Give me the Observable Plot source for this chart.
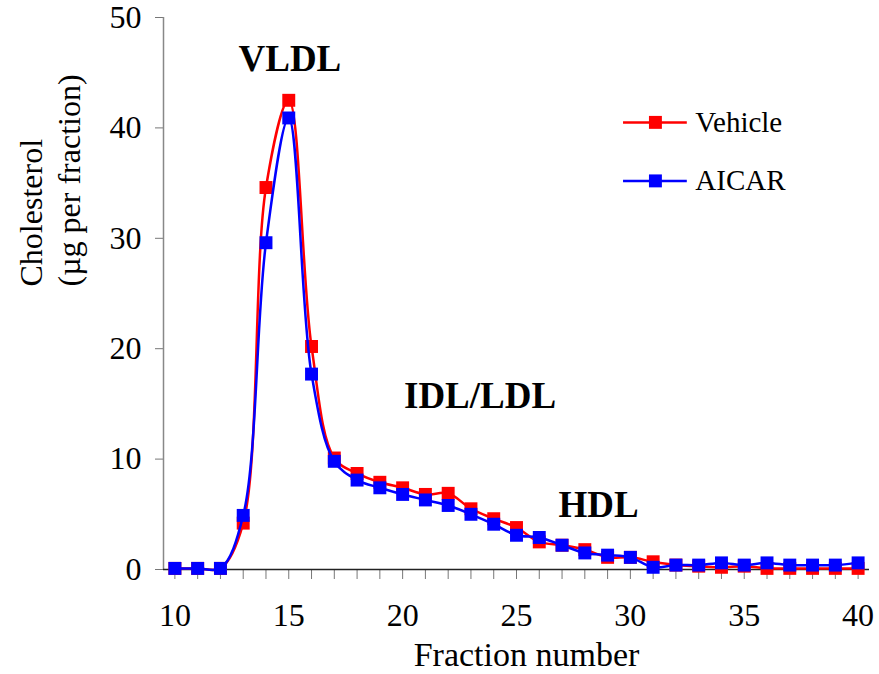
<!DOCTYPE html>
<html><head><meta charset="utf-8">
<script src="https://cdn.jsdelivr.net/npm/d3@7"></script>
<script src="https://cdn.jsdelivr.net/npm/@observablehq/plot@0.6"></script>
<style>
body{margin:0;background:#fff}
#chart svg, #chart svg text { font-family: "Liberation Serif", "Times New Roman", serif !important; }
</style>
</head><body><div id="chart"></div>
<script>
const fractions = [10,11,12,13,14,15,16,17,18,19,20,21,22,23,24,25,26,27,28,29,30,31,32,33,34,35,36,37,38,39,40];
const vehicle = [0.1,0.1,0.1,4.2,34.6,42.5,20.2,10.1,8.7,7.9,7.4,6.8,6.9,5.5,4.6,3.8,2.5,2.2,1.8,1.1,1.1,0.7,0.4,0.3,0.2,0.3,0.1,0.1,0.1,0.1,0.1];
const aicar   = [0.1,0.1,0.1,4.9,29.6,40.9,17.7,9.8,8.1,7.4,6.8,6.3,5.8,5.0,4.1,3.1,2.9,2.2,1.5,1.3,1.1,0.2,0.4,0.4,0.6,0.4,0.6,0.4,0.4,0.4,0.6];
const seriesNames = ["Vehicle","AICAR"];
const seriesColors = ["#ff0000","#0000ff"];
const yTicks = [0,10,20,30,40,50];
const xLabelTicks = [10,15,20,25,30,35,40];
const annotations = [
  {text:"VLDL", x:15.05, y:46.2},
  {text:"IDL/LDL", x:23.4, y:15.7},
  {text:"HDL", x:28.6, y:5.8}
];
// legend placement (data coordinates)
const legendRows = [
  {name:"Vehicle", color:"#ff0000", y:40.5},
  {name:"AICAR", color:"#0000ff", y:35.2}
];
const legendLine = [29.7, 32.5], legendMarkX = 31.1, legendTextX = 32.85;

const vData = fractions.map((f,i)=>({x:f, y:vehicle[i]}));
const aData = fractions.map((f,i)=>({x:f, y:aicar[i]}));
const font = "'Liberation Serif', 'Times New Roman', serif";

const plot = Plot.plot({
  width: 879, height: 674,
  marginLeft: 163, marginRight: 10, marginTop: 17, marginBottom: 105,
  style: {fontFamily: font, fontSize: "32px", color: "#000", background: "#fff"},
  x: {domain: [9.5, 40.5]},
  y: {domain: [0, 50]},
  marks: [
    Plot.axisY({ticks: yTicks, tickSize: 8, tickPadding: 14, stroke: "#777", fill: "#000", label: null, fontSize: 32}),
    Plot.axisX({ticks: fractions, tickSize: 10, tickPadding: 24, stroke: "#777", fill: "#000", label: null, fontSize: 32,
      tickFormat: d => xLabelTicks.includes(d) ? String(d) : ""}),
    Plot.ruleX([9.5], {stroke: "#888", strokeWidth: 1.5}),
    Plot.ruleY([0], {stroke: "#222", strokeWidth: 1.5}),
    Plot.line(vData, {x:"x", y:"y", stroke: seriesColors[0], strokeWidth: 2.5, curve: "catmull-rom"}),
    Plot.dot(vData, {x:"x", y:"y", symbol:"square", r:7.3, fill: seriesColors[0]}),
    Plot.line(aData, {x:"x", y:"y", stroke: seriesColors[1], strokeWidth: 2.5, curve: "catmull-rom"}),
    Plot.dot(aData, {x:"x", y:"y", symbol:"square", r:7.3, fill: seriesColors[1]}),
    Plot.text(annotations, {x:"x", y:"y", text:"text", fontWeight:"bold", fontSize: 37, lineAnchor:"middle", fill:"#000"}),
    // legend
    Plot.ruleY(legendRows, {y:"y", x1: legendLine[0], x2: legendLine[1], stroke:"color", strokeWidth: 2.5}),
    Plot.dot(legendRows, {x: legendMarkX, y:"y", symbol:"square", r:7.3, fill:"color"}),
    Plot.text(legendRows, {x: legendTextX, y:"y", text:"name", textAnchor:"start", lineAnchor:"middle", fontSize: 29, fill:"#000"}),
    // axis titles
    Plot.text(["Fraction number"], {frameAnchor:"bottom", dy: 86, dx: 10, lineAnchor:"middle", fontSize: 34, fill:"#000"}),
    Plot.text(["Cholesterol\n(µg per fraction)"], {frameAnchor:"left", rotate:-90, dx:-115, dy:-7, lineAnchor:"middle", lineHeight: 1.2, fontSize: 32, fill:"#000"})
  ]
});
document.getElementById("chart").appendChild(plot);
</script>
</body></html>
